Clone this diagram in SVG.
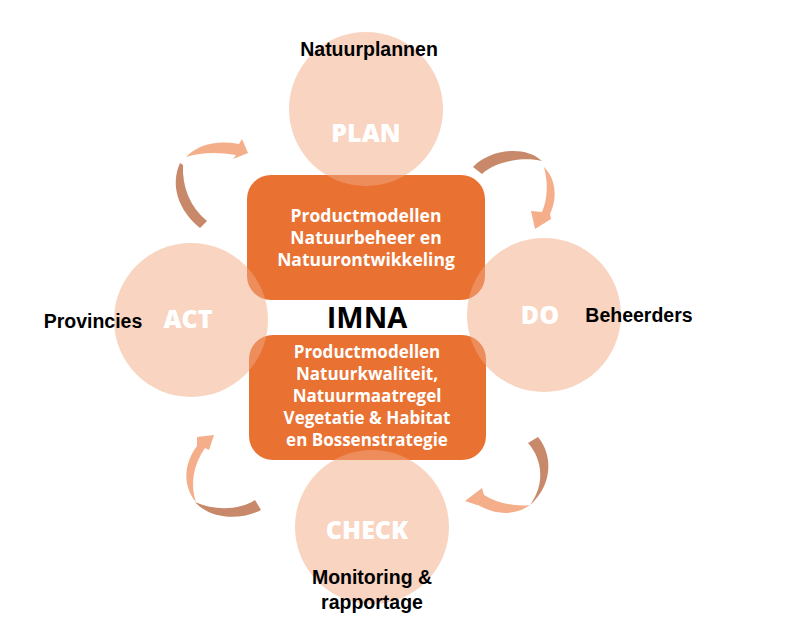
<svg xmlns="http://www.w3.org/2000/svg" width="799" height="618" viewBox="0 0 799 618">
<style>
.box{fill:#E97132}
.circ{fill:#F2AA84;fill-opacity:0.5}
.boxt{font-family:"Open Sans",sans-serif;font-weight:700;font-size:17.5px;fill:#ffffff;text-anchor:middle}
.boxb{font-size:17px}
.ct{font-family:"Open Sans",sans-serif;font-weight:800;font-size:25px;fill:#ffffff;text-anchor:middle}
.lab{font-family:"Liberation Sans",Arial,sans-serif;font-weight:700;font-size:19.5px;fill:#000000;text-anchor:middle}
.imna{font-family:"Open Sans",sans-serif;font-weight:700;font-size:29px;fill:#000000;text-anchor:middle}
.dk{fill:#C8896A}
.lt{fill:#F4AE8A}
</style>
<rect width="799" height="618" fill="#ffffff"/>
<g id="box-top"><rect class="box" x="247" y="175" width="238" height="125" rx="24"/></g>
<g id="box-bottom"><rect class="box" x="249" y="335" width="237" height="125" rx="24"/></g>
<g id="plan"><circle class="circ" cx="366" cy="109" r="77"/><text class="ct" x="366" y="142">PLAN</text></g>
<g id="act"><circle class="circ" cx="191" cy="320" r="77"/><text class="ct" x="188" y="328">ACT</text></g>
<g id="do"><circle class="circ" cx="544" cy="315" r="77"/><text class="ct" x="540" y="324">DO</text></g>
<g id="check"><circle class="circ" cx="372" cy="527" r="77"/><text class="ct" x="367" y="539">CHECK</text></g>
<g id="box-top-text">
<text class="boxt" x="366" y="222">Productmodellen</text>
<text class="boxt" x="366" y="244">Natuurbeheer en</text>
<text class="boxt" x="366" y="266">Natuurontwikkeling</text>
</g>
<g id="box-bottom-text">
<text class="boxt boxb" x="367" y="358">Productmodellen</text>
<text class="boxt boxb" x="367" y="380">Natuurkwaliteit,</text>
<text class="boxt boxb" x="367" y="402">Natuurmaatregel</text>
<text class="boxt boxb" x="367" y="424">Vegetatie &amp; Habitat</text>
<text class="boxt boxb" x="367" y="446">en Bossenstrategie</text>
</g>
<g id="imna"><text class="imna" x="367" y="328">IMNA</text></g>
<g id="labels">
<text class="lab" x="369" y="56">Natuurplannen</text>
<text class="lab" x="93" y="328">Provincies</text>
<text class="lab" x="639" y="322">Beheerders</text>
<text class="lab" x="372" y="584">Monitoring &amp;</text>
<text class="lab" x="372" y="609">rapportage</text>
</g>
<g id="connectors">
<path class="dk" d="M180,163 C170,185 178,210 200,228 L207,221 C190,207 182,187 183,165 Z"/>
<path class="lt" d="M186,157 Q205,138 239,144 L242,139 L248,153 L233,159 L236,155 Q208,150 186,157 Z"/>
<path class="dk" d="M473,167 C490,149 525,145 542,161 C525,157 497,160 482,174 Z"/>
<path class="lt" d="M544,167 C557,180 557,200 550,214 L551,219 L535,229 L531,211 L542,212 C548,198 548,182 544,167 Z"/>
<path class="lt" d="M214,435 L209,450 L205,448 C193,465 190,485 196,502 C184,488 182,466 197,446 L197,437 Z"/>
<path class="dk" d="M195,502 C210,519 240,521 261,510 L255,500 C240,510 215,511 195,502 Z"/>
<path class="dk" d="M538,437 C553,455 553,485 530,505 C545,485 543,460 528,443 Z"/>
<path class="lt" d="M530,505 C515,516 495,515 478,505 L477,505 L465,501 L482,488 L484,495 C497,503 515,507 530,505 Z"/>
</g>
</svg>
